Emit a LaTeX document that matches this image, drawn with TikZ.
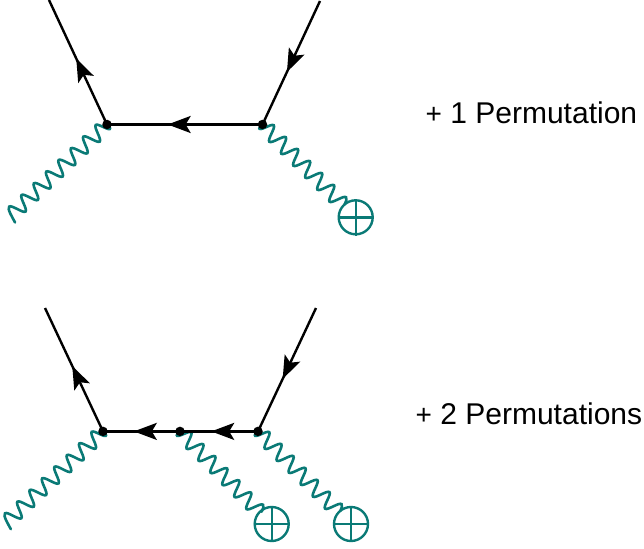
\documentclass[tikz,border=0pt]{standalone}
\usepackage{fontspec}
\setmainfont{Liberation Sans}
\usetikzlibrary{arrows.meta,decorations.pathmorphing,decorations.markings,backgrounds}
\definecolor{teal1}{RGB}{10,122,118}
\def\gtail{0}
\pgfdeclaredecoration{gwave}{init}{
 \state{init}[width=8.5pt,next state=down,switch if less than=8.5pt to final]{
  \pgfpathmoveto{\pgfpoint{0pt}{-0.65\pgfdecorationsegmentamplitude}}
  \pgfpathcurveto{\pgfpoint{3pt}{-1.05\pgfdecorationsegmentamplitude}}{\pgfpoint{5.4pt}{\pgfdecorationsegmentamplitude}}{\pgfpoint{8.5pt}{\pgfdecorationsegmentamplitude}}
 }
 \state{down}[width=8.5pt,next state=up,switch if less than=8.5pt to final]{
  \pgfpathcurveto{\pgfpoint{3.1pt}{\pgfdecorationsegmentamplitude}}{\pgfpoint{5.4pt}{-\pgfdecorationsegmentamplitude}}{\pgfpoint{8.5pt}{-\pgfdecorationsegmentamplitude}}
 }
 \state{up}[width=8.5pt,next state=down,switch if less than=8.5pt to final]{
  \pgfpathcurveto{\pgfpoint{3.1pt}{-\pgfdecorationsegmentamplitude}}{\pgfpoint{5.4pt}{\pgfdecorationsegmentamplitude}}{\pgfpoint{8.5pt}{\pgfdecorationsegmentamplitude}}
 }
 \state{final}{
  \ifnum\gtail=1
   \pgfpathcurveto{\pgfpoint{3.1pt}{\pgfdecorationsegmentamplitude}}{\pgfpoint{5pt}{-0.3\pgfdecorationsegmentamplitude}}{\pgfpoint{6.6pt}{-1.1\pgfdecorationsegmentamplitude}}
  \else
   \pgfpathcurveto{\pgfpoint{2pt}{\pgfdecorationsegmentamplitude}}{\pgfpoint{3pt}{0.6\pgfdecorationsegmentamplitude}}{\pgfpoint{4pt}{0.2\pgfdecorationsegmentamplitude}}
  \fi
 }
}
\tikzset{
 x=1pt,y=-1pt,
 vtx/.style={circle,fill=black,inner sep=0pt,minimum size=9.5pt},
 fermion/.style={line width=2.4pt,black},
 arrowat/.style={postaction={decorate,decoration={markings,mark=at position #1 with {\arrow[black]{Stealth[length=23pt,width=17pt,inset=5pt]}}}}},
 wavetail/.code={\def\gtail{1}},
 photon/.style={line width=2.6pt,teal1,line cap=round,decorate,decoration={gwave,amplitude=#1}},
 source/.style={circle,draw=teal1,line width=2.4pt,inner sep=0pt,minimum size=34pt},
 crossbar/.style={line width=2.4pt,teal1},
 lab/.style={font=\fontsize{30}{34}\selectfont,anchor=base west,inner sep=0pt},
}
\begin{document}
\begin{tikzpicture}
\useasboundingbox (0,0) rectangle (644,548);
% top diagram
\coordinate (a1) at (49,0);
\coordinate (b1) at (320,1);
\coordinate (p1) at (10.6,215.5);
\node[source] (s1) at (355.7,217.3) {};
\draw[crossbar] (s1.north)--(s1.south) (s1.west)--(s1.east);
\node[vtx] (v1) at (107,124.5) {};
\node[vtx] (v2) at (262.5,124.5) {};
\begin{pgfonlayer}{background}
\draw[photon=-7.4pt,wavetail] (v1.center) -- (p1);
\draw[photon=7.4pt] (v2.center) -- (s1);
\draw[fermion,arrowat=0.53] (v1.center) -- (a1);
\draw[fermion,arrowat=0.575] (b1) -- (v2.center);
\draw[fermion,arrowat=0.61] (v2.center) -- (v1.center);
\end{pgfonlayer}
\node[lab] (t1) at (425.5,124) {{\fontsize{28}{32}\selectfont +} 1 Permutation};
% bottom diagram
\coordinate (a2) at (45,308);
\coordinate (b2) at (316,308);
\coordinate (p2) at (6.6,522);
\node[source] (s2) at (271.7,524) {};
\draw[crossbar] (s2.north)--(s2.south) (s2.west)--(s2.east);
\node[source] (s3) at (351,524) {};
\draw[crossbar] (s3.north)--(s3.south) (s3.west)--(s3.east);
\node[vtx] (v3) at (103,431.4) {};
\node[vtx] (v4) at (180,431.4) {};
\node[vtx] (v5) at (258,431.4) {};
\begin{pgfonlayer}{background}
\draw[photon=-7.4pt,wavetail] (v3.center) -- (p2);
\draw[photon=7.4pt] (v4.center) -- (s2);
\draw[photon=7.4pt] (v5.center) -- (s3);
\draw[fermion,arrowat=0.53] (v3.center) -- (a2);
\draw[fermion,arrowat=0.575] (b2) -- (v5.center);
\draw[fermion,arrowat=0.6] (v4.center) -- (v3.center);
\draw[fermion,arrowat=0.6] (v5.center) -- (v4.center);
\end{pgfonlayer}
\node[lab] (t2) at (415.5,424) {{\fontsize{28}{32}\selectfont +} 2 Permutations};
\end{tikzpicture}
\end{document}
